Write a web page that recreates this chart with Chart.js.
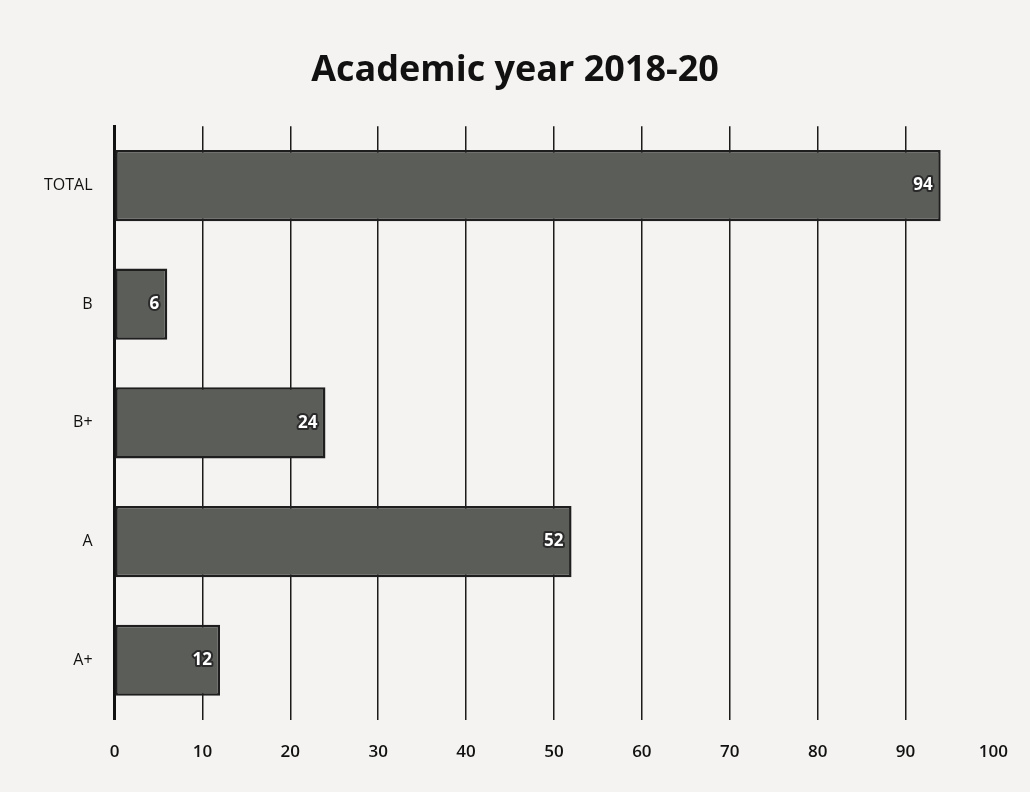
<!DOCTYPE html>
<html>
<head>
<meta charset="utf-8">
<script src="https://cdn.jsdelivr.net/npm/chart.js@4/dist/chart.umd.min.js"></script>
<style>
  html, body { margin: 0; padding: 0; background: #f4f3f1; }
  #wrap { width: 1030px; height: 792px; position: relative; }
</style>
</head>
<body>
<div id="wrap"><canvas id="myChart" width="1030" height="792"></canvas></div>
<script>
// grades, top to bottom as printed
const categories = ['TOTAL', 'B', 'B+', 'A', 'A+'];
const students = [94, 6, 24, 52, 12];
const xTicks = [0, 10, 20, 30, 40, 50, 60, 70, 80, 90, 100];

// value written inside the end of each bar
const barValues = {
    id: 'barValues',
    afterDatasetsDraw(chart) {
        const ctx = chart.ctx;
        const meta = chart.getDatasetMeta(0);
        ctx.save();
        ctx.font = 'bold 17px "Open Sans"';
        ctx.textAlign = 'right';
        ctx.textBaseline = 'middle';
        ctx.lineJoin = 'round';
        meta.data.forEach((bar, i) => {
            const x = bar.x - 8;
            const y = bar.y;
            ctx.lineWidth = 4;
            ctx.strokeStyle = '#2a2a2a';
            ctx.strokeText(students[i], x, y);
            ctx.fillStyle = '#ffffff';
            ctx.fillText(students[i], x, y);
        });
        ctx.restore();
    }
};

const ctx = document.getElementById('myChart').getContext('2d');
const myChart = new Chart(ctx, {
    type: 'bar',
    data: {
        labels: categories,
        datasets: [{
            label: 'Students',
            data: students,
            backgroundColor: '#5b5d59',
            borderColor: '#1e1e1e',
            borderWidth: 2.5,
            borderSkipped: false,
            categoryPercentage: 1,
            barPercentage: 0.6
        }]
    },
    options: {
        indexAxis: 'y',
        responsive: false,
        animation: false,
        layout: { padding: { left: 30, right: 30, top: 10, bottom: 8 } },
        plugins: {
            legend: { display: false },
            tooltip: { enabled: false },
            title: {
                display: true,
                text: 'Academic year 2018-20',
                color: '#111111',
                font: { family: '"Open Sans"', size: 36, weight: 'bold' },
                padding: { top: 39, bottom: 34 }
            }
        },
        scales: {
            x: {
                min: 0,
                max: 100,
                afterBuildTicks: axis => { axis.ticks = xTicks.map(v => ({ value: v })); },
                border: { display: false },
                grid: {
                    drawTicks: false,
                    color: c => (c.tick && c.tick.value === 100) ? 'rgba(0,0,0,0)' : '#1a1a1a',
                    lineWidth: 1.5
                },
                ticks: {
                    padding: 22,
                    color: '#111111',
                    font: { family: '"Open Sans"', size: 17, weight: '600' }
                }
            },
            y: {
                border: { display: true, color: '#111111', width: 3 },
                grid: { display: false },
                ticks: {
                    padding: 14,
                    color: '#111111',
                    font: { family: '"Open Sans"', size: 16 }
                }
            }
        }
    },
    plugins: [barValues]
});
</script>
</body>
</html>
